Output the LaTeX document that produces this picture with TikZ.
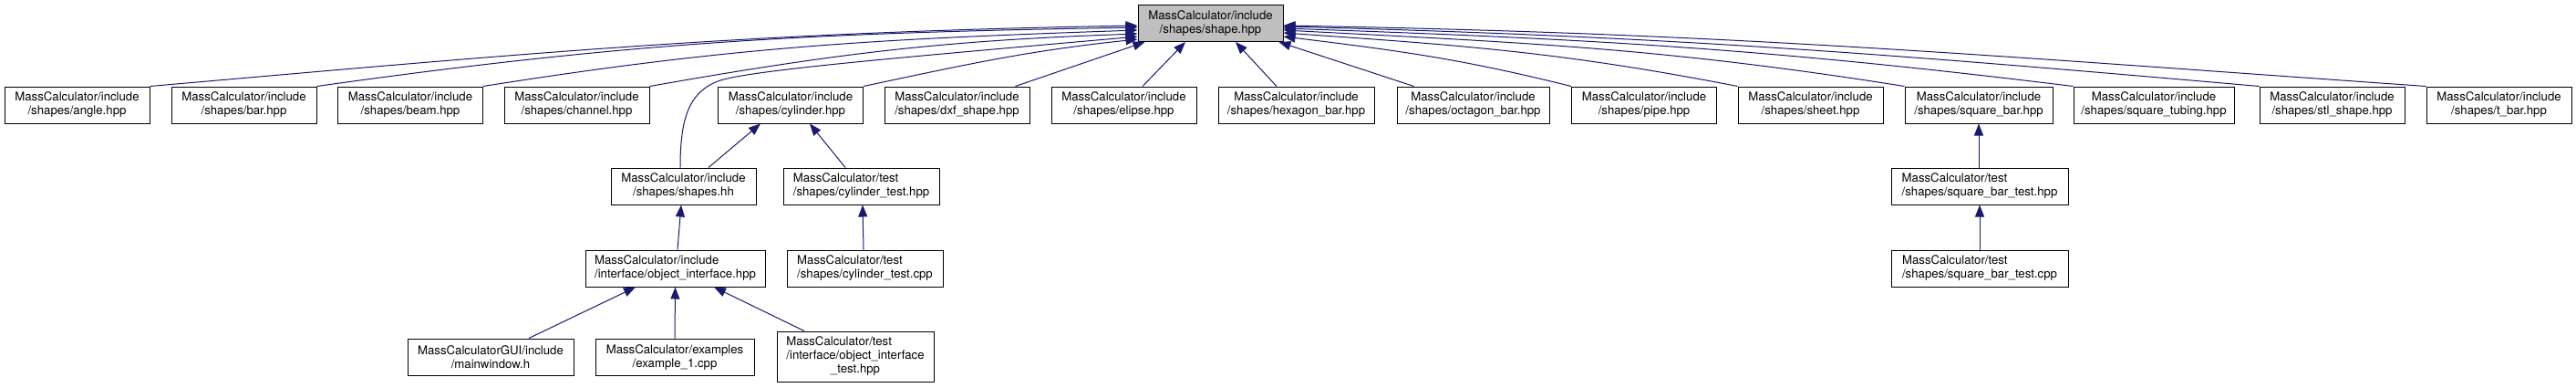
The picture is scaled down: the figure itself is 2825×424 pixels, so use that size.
\documentclass[tikz,border=0pt]{standalone}
\usepackage{fontspec}
\setmainfont{TeX Gyre Heros}
\usetikzlibrary{arrows.meta}
\definecolor{edgeblue}{HTML}{191970}
\definecolor{hlgray}{HTML}{BFBFBF}
\newcommand\dgfont{\fontsize{13.2}{15}\selectfont}
\begin{document}
\begin{tikzpicture}[x=1pt,y=1pt,
  basebox/.style={draw=black, line width=1pt, fill=white, inner sep=0pt, font=\dgfont, minimum height=40pt},
  box/.style={basebox, align=center},
  lbox/.style={basebox, align=left},
  hl/.style={box, fill=hlgray},
  dep/.style={draw=edgeblue, line width=1pt, {Triangle[length=13pt,width=10pt]}-}]
\useasboundingbox (0,0) rectangle (2825,-424);
% row 0
\node[hl, minimum width=159pt] (shape) at (1327.5,-25.5) {MassCalculator/include\\/shapes/shape.hpp};
% row 1
\node[box, minimum width=159pt] (angle) at (84.5,-115) {MassCalculator/include\\/shapes/angle.hpp};
\node[box, minimum width=159pt] (bar) at (267.5,-115) {MassCalculator/include\\/shapes/bar.hpp};
\node[box, minimum width=159pt] (beam) at (450,-115) {MassCalculator/include\\/shapes/beam.hpp};
\node[box, minimum width=159pt] (channel) at (632.5,-115) {MassCalculator/include\\/shapes/channel.hpp};
\node[box, minimum width=159pt] (cylinder) at (867,-115) {MassCalculator/include\\/shapes/cylinder.hpp};
\node[box, minimum width=159pt] (dxf) at (1049.5,-115) {MassCalculator/include\\/shapes/dxf\_shape.hpp};
\node[box, minimum width=159pt] (elipse) at (1232.5,-115) {MassCalculator/include\\/shapes/elipse.hpp};
\node[box, minimum width=171pt] (hexagon) at (1421.5,-115) {MassCalculator/include\\/shapes/hexagon\_bar.hpp};
\node[box, minimum width=167pt] (octagon) at (1615.5,-115) {MassCalculator/include\\/shapes/octagon\_bar.hpp};
\node[box, minimum width=159pt] (pipe) at (1803,-115) {MassCalculator/include\\/shapes/pipe.hpp};
\node[box, minimum width=159pt] (sheet) at (1985.5,-115) {MassCalculator/include\\/shapes/sheet.hpp};
\node[box, minimum width=162pt] (squarebar) at (2170,-115) {MassCalculator/include\\/shapes/square\_bar.hpp};
\node[box, minimum width=176pt] (squaretubing) at (2362,-115) {MassCalculator/include\\/shapes/square\_tubing.hpp};
\node[box, minimum width=159pt] (stl) at (2557.5,-115) {MassCalculator/include\\/shapes/stl\_shape.hpp};
\node[box, minimum width=159pt] (tbar) at (2740.5,-115) {MassCalculator/include\\/shapes/t\_bar.hpp};
% row 2
\node[box, minimum width=159pt] (shapeshh) at (749.5,-204) {MassCalculator/include\\/shapes/shapes.hh};
\node[lbox, minimum width=171pt] (cyltesthpp) at (944.5,-204) {MassCalculator/test\\/shapes/cylinder\_test.hpp};
\node[lbox, minimum width=194pt] (sbtesthpp) at (2171,-204) {MassCalculator/test\\/shapes/square\_bar\_test.hpp};
% row 3
\node[lbox, minimum width=197pt] (objint) at (740.5,-294) {MassCalculator/include\\/interface/object\_interface.hpp};
\node[lbox, minimum width=171pt] (cyltestcpp) at (948.5,-294) {MassCalculator/test\\/shapes/cylinder\_test.cpp};
\node[lbox, minimum width=194pt] (sbtestcpp) at (2171,-294) {MassCalculator/test\\/shapes/square\_bar\_test.cpp};
% row 4
\node[box, minimum width=182pt] (mainwin) at (538,-391) {MassCalculatorGUI/include\\/mainwindow.h};
\node[box, minimum width=174pt] (example) at (740,-391) {MassCalculator/examples\\/example\_1.cpp};
\node[basebox, minimum width=172pt, minimum height=55pt] (objtest) at (938,-390.5) {\begin{tabular}{@{}l@{}}MassCalculator/test\\/interface/object\_interface\\\multicolumn{1}{@{}c@{}}{\_test.hpp}\end{tabular}};
% edges to shape, left side
\draw[dep] ([yshift=-2.5pt]shape.west) .. controls +(181:425) and +(5:425) .. (angle.north east);
\draw[dep] ([yshift=-4.5pt]shape.west) .. controls +(181:354) and +(8:354) .. (bar.north east);
\draw[dep] ([yshift=-7.5pt]shape.west) .. controls +(182:283) and +(9:283) .. (beam.north east);
\draw[dep] ([yshift=-11.5pt]shape.west) .. controls +(182:211) and +(10:211) .. (channel.north east);
\draw[dep] ([yshift=-14.5pt]shape.west) .. controls (1000,-62) and (830,-76) .. (790,-88) .. controls (755,-100) and (746,-130) .. ([xshift=-3.5pt]shapeshh.north);
\draw[dep] ([yshift=-17.5pt]shape.west) .. controls +(186:120) and +(12:120) .. (cylinder.north east);
% bottom
\draw[dep] ([xshift=8pt]shape.south west) -- ([xshift=-16pt]dxf.north east);
\draw[dep] ([xshift=-27.5pt]shape.south) -- ([xshift=20.5pt]elipse.north);
\draw[dep] ([xshift=27.5pt]shape.south) -- ([xshift=-21.5pt]hexagon.north);
\draw[dep] ([xshift=-5pt]shape.south east) -- ([xshift=19pt]octagon.north west);
% right side
\draw[dep] ([yshift=-14.5pt]shape.east) .. controls +(-7:126) and +(166:126) .. (pipe.north west);
\draw[dep] ([yshift=-10.5pt]shape.east) .. controls +(-4:197) and +(169:197) .. (sheet.north west);
\draw[dep] ([yshift=-7.5pt]shape.east) .. controls +(-3:268) and +(171:268) .. (squarebar.north west);
\draw[dep] ([yshift=-5.5pt]shape.east) .. controls +(-2:340) and +(173:340) .. (squaretubing.north west);
\draw[dep] ([yshift=-3.5pt]shape.east) .. controls +(-1.5:420) and +(175:420) .. (stl.north west);
\draw[dep] ([yshift=-2.5pt]shape.east) .. controls +(-1:492) and +(176:492) .. (tbar.north west);
% lower levels
\draw[dep] ([xshift=-33pt]cylinder.south) -- ([xshift=27.5pt]shapeshh.north);
\draw[dep] ([xshift=21pt]cylinder.south) -- ([xshift=-17.5pt]cyltesthpp.north);
\draw[dep] ([xshift=-2.5pt]shapeshh.south) -- ([xshift=2.5pt]objint.north);
\draw[dep] ([xshift=1.5pt]cyltesthpp.south) -- ([xshift=-1.5pt]cyltestcpp.north);
\draw[dep] ([xshift=-43.5pt]objint.south) -- ([xshift=42pt]mainwin.north);
\draw[dep] (objint.south) -- (example.north);
\draw[dep] ([xshift=42.5pt]objint.south) -- ([xshift=-56pt]objtest.north);
\draw[dep] (squarebar.south) -- ([xshift=-1pt]sbtesthpp.north);
\draw[dep] (sbtesthpp.south) -- (sbtestcpp.north);
\end{tikzpicture}
\end{document}
